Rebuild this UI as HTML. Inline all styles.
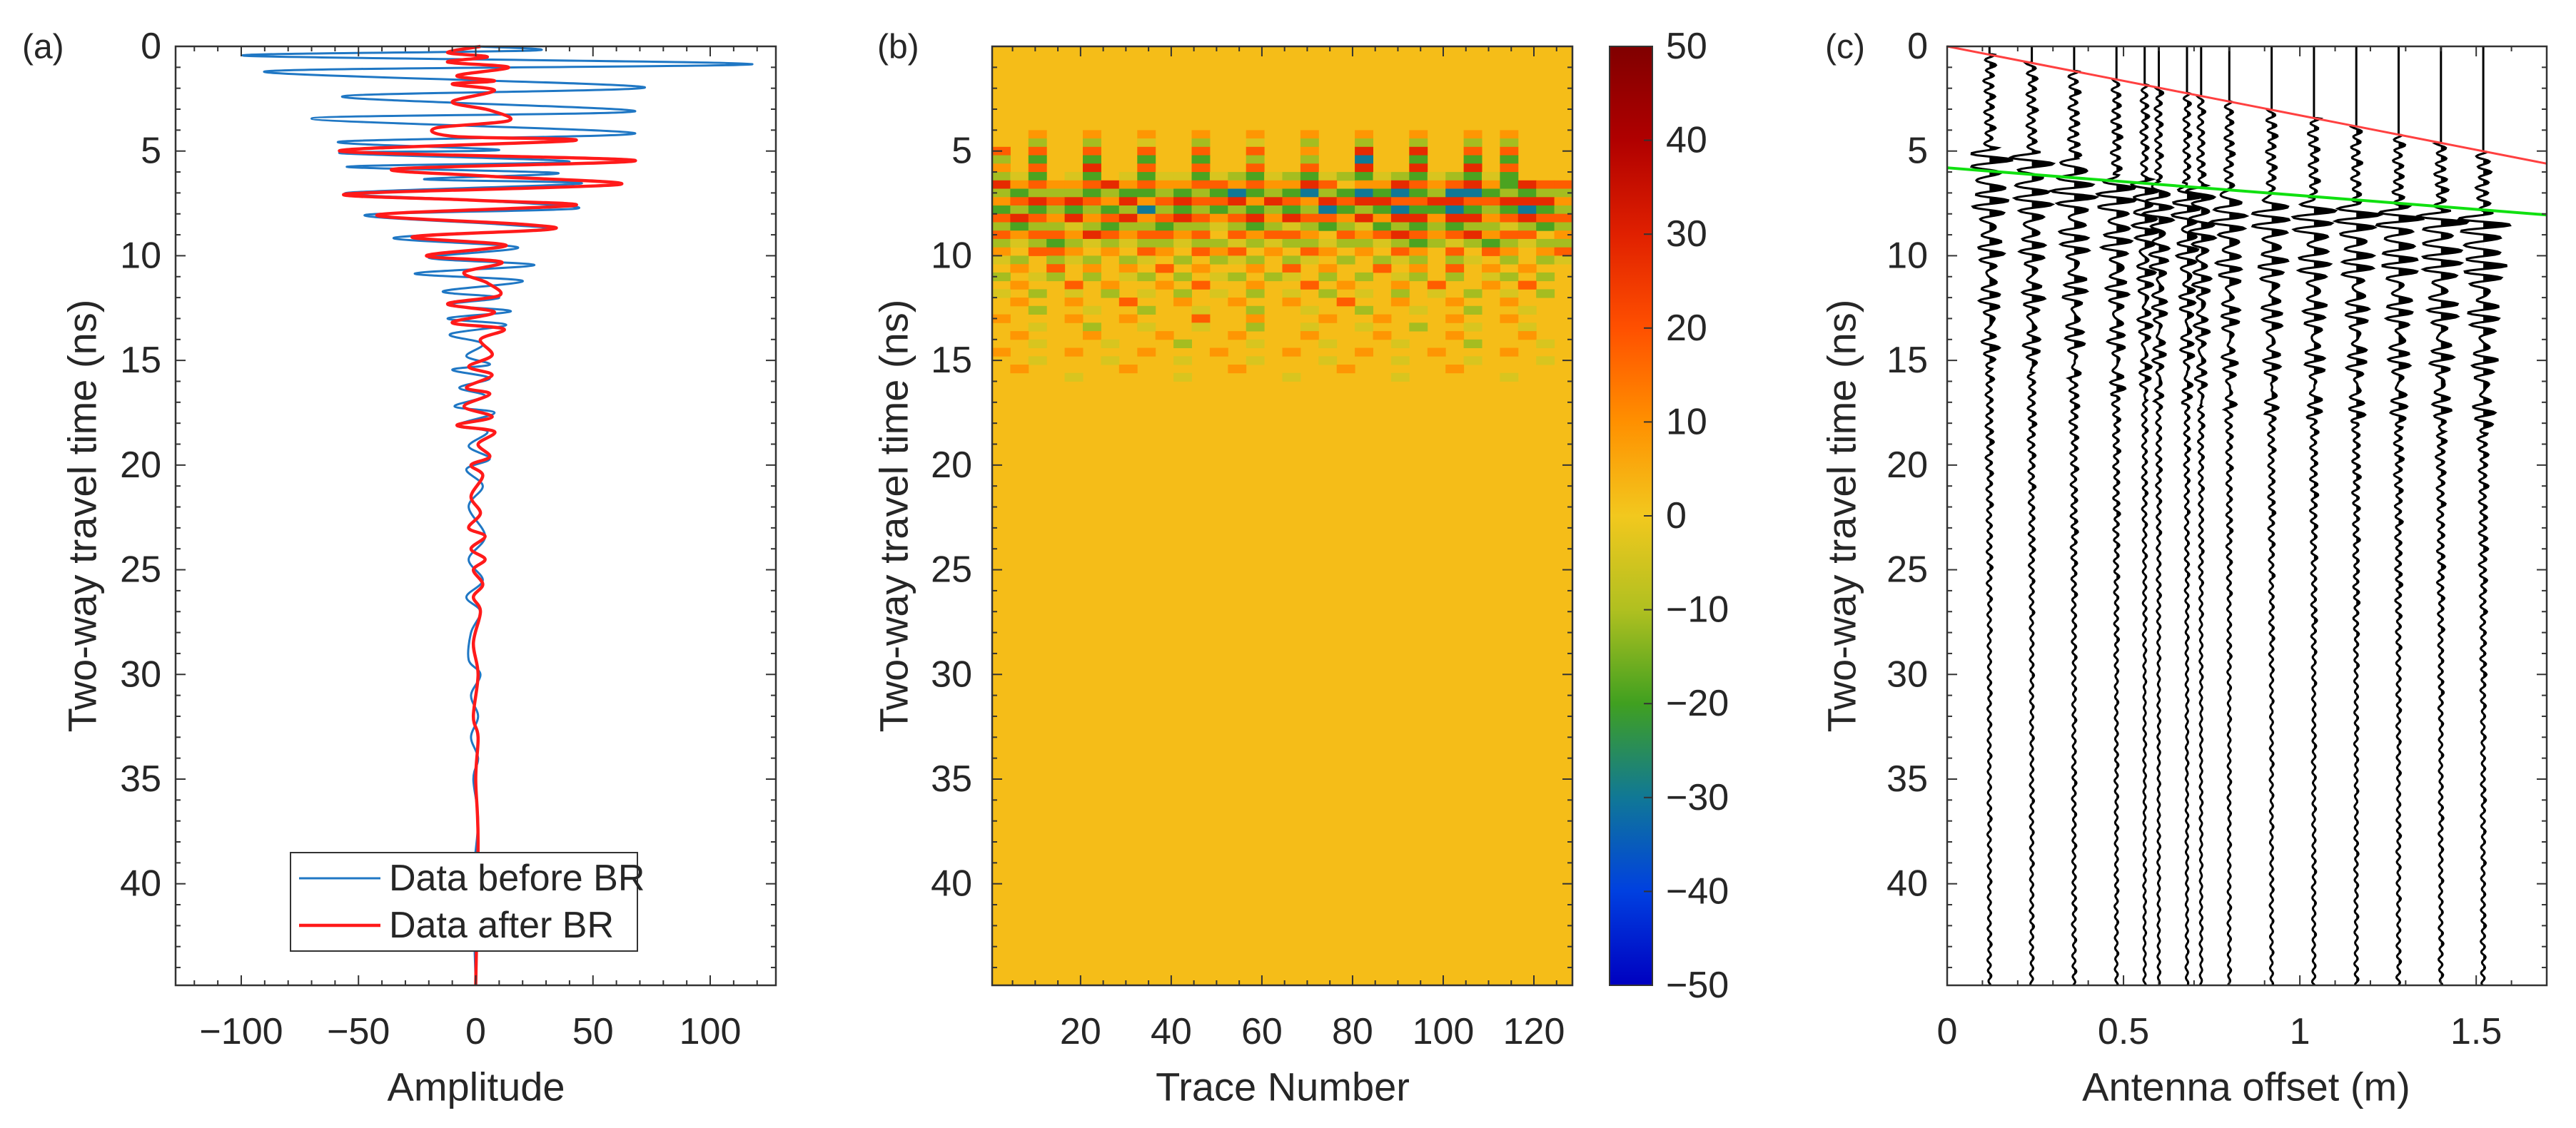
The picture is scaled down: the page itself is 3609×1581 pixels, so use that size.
<!DOCTYPE html>
<html><head><meta charset="utf-8"><style>
html,body{margin:0;padding:0;background:#fff;}
svg{display:block;font-family:"Liberation Sans",Arial,sans-serif;}
</style></head><body>
<svg id="fig" xmlns="http://www.w3.org/2000/svg" width="3609" height="1581" viewBox="0 0 3609 1581">
<rect x="0" y="0" width="3609" height="1581" fill="#fff"/>
</svg>
<script>
// ---------- Panel (a) data: turning points (time ns, amplitude) ----------
const blueT=[0,0.2,0.45,0.85,1.2,1.95,2.4,3.1,3.45,4.15,4.55,4.95,5.1,5.5,5.75,6.05,6.35,6.55,7.0,7.35,7.75,8.05,8.5,8.75,9.15,9.6,10.1,10.45,10.85,11.2,11.7,12.0,12.35,12.65,13.0,13.3,13.75,14.2,14.8,15.2,15.45,15.85,16.3,16.7,17.2,17.5,18.1,18.4,19.1,19.7,20.2,21,22,23.4,24.5,25.5,26.3,27,28,29.3,30,31,32,33,34,35,37,40,44.85];
const blueA=[0,24,-98,118,-90,72,-57,68,-70,68,-58,10,-58,40,-55,35,-22,45,-55,0,43,-47,10,30,-35,18,-20,25,-26,20,-14,10,-12,15,-12,13,-11,3,-4,6,-10,6,-7,4,-9,8,-8,5,-3,6,-4,3,-3,4,-3,3,-4,2,-2,-3,2,-2,1,-2,1,-1,1,-1,0];
const redT=[0,0.3,0.5,0.75,1.0,1.4,1.65,1.8,2.1,2.65,3.05,3.55,3.9,4.3,4.5,5.0,5.45,5.85,6.2,6.6,7.05,7.35,7.6,8.05,8.5,8.75,9.1,9.5,10.0,10.3,10.8,11.3,11.9,12.3,12.7,13.2,13.5,14,14.75,15.3,15.7,16.3,16.6,17.2,17.7,18.1,18.4,19,19.6,20,20.5,21.5,22.3,23,23.4,24,24.5,25,25.7,26.3,27,28.5,30,32,33,35,38,44.85];
const redA=[2,-12,5,-12,14,-8,8,-10,8,-10,6,14,-17,-9,42,-58,68,-34,5,61,-55,0,42,-42,20,31,-27,13,-21,11,-5,5,10,-12,8,-10,12,2,7,-3,7,-4,6,-5,7,-8,8,1,6,-2,3,-2,2,-3,4,-2,4,-1,3,-1,2,-1,1,-1,1,0,1,0];
const aXTicks=[-100,-50,0,50,100];
const aXTickLabels=["\u2212100","\u221250","0","50","100"];
const timeTicks=[0,5,10,15,20,25,30,35,40];
const legendLabels=["Data before BR","Data after BR"];

// ---------- Panel (b) data: heat rows (4 traces per column, 0.4 ns per row from 4.0 ns) ----------
const heatStart=4.0, heatStep=0.4, tracesPerCell=4;
const heatRows=[
"..o..o..o..o..o..o..o..o..o.o...",
"..g..g..-..g..-..g..g..g..g.g...",
"r.r..r..r..r..r..o..R..R..r.r...",
"g.G..G..G..G..g..g..b..G..G.G...",
"o.r..R..r..r..r..r..R..R..R.r...",
"g-G.-G.-G--G-gG-gG-gG-gG-gG-G...",
"RoroorRoroorrorooRr.ooRrorRoGRrr",
"gGgggGgGGgGgGbGgGbgGbGbGgbbGgGgg",
"orRrRroRorRrrRoRroRrRRrrRRrrRRRo",
"GgGgGgGgbgGgGgGgGgbGgGbGGbGgGbGg",
"rRroRorRorRrorRoRrroRoRRoRRorRrr",
"gGgg-gGggGgg-gGg-gGg-GgGgGgg-gGg",
"rorroRrorror.rorro.rorRrorRorr.o",
"g-gGg-g-gg-gg-g-gg-gg-gGg-gGg-gg",
"o.rro.o.ro.ror.o.ro.o.ro.r.ro.or",
"-g.g-g.g-.g.g-g.g-.g.g-g.g-.g.g-",
".o.r.o.o.r.o..o.r.o..r.o.r.o.o..",
"g.-g.g.-g.g.-g.g-.g.g.-g.g.-g.g.",
".o..r.o..o.r..o..r.o..o.r..o.r..",
"-.g.-.g.-.g.-.g.-.g.-.g.-.g.-.g.",
".o..o..r..o..o..o..r..o..o..o...",
"..g..-..g..-..g..-..g..-..g..-..",
"o...o..o...r..o...o..o...o..o...",
"..-..g..-..-..g..-..-..g..-..-..",
".o...o...o...o...o...o...o...o..",
"..-...-...g...-...-...-...g...-.",
"o...o...o...o...o...o...o...o...",
"..-...-...-...-...-...-...-...-.",
".o.....o.....o.....o.....o......",
"....-.....-.....-.....-.....-..."
];
const heatCodes=["R","r","o",".","-","g","G","b"];
const heatValues=[28,18,9,2,-4,-11,-19,-30];
const bXTicks=[20,40,60,80,100,120];
const bYTicks=[5,10,15,20,25,30,35,40];
const cbarTicks=[-50,-40,-30,-20,-10,0,10,20,30,40,50];

// ---------- Panel (c) data ----------
const cOffsets=[0.12,0.24,0.36,0.48,0.56,0.60,0.68,0.72,0.80,0.92,1.04,1.16,1.28,1.40,1.52];
const cRefl=[4.8,5.0,5.3,6.1,6.3,6.4,6.5,6.6,6.8,7.0,7.2,7.4,7.6,7.8,7.9];
const cAmp=[26,26,28,24,18,18,18,18,22,24,26,26,28,30,32];
const wavelet=[0.3,-0.8,1,-0.9,0.8,-1,0.9,-0.7,0.8,-0.6,0.7,-0.6,0.5,-0.5,0.6,-0.4,0.5,-0.4,0.45,-0.35,0.45,-0.35,0.4,-0.3,0.35,-0.3,0.35,-0.25,0.3,-0.25,0.3,-0.2,0.25,-0.2];
const tailNoise=[0.12,-0.1,0.15,-0.08,0.1,-0.14,0.09,-0.11,0.13,-0.07,0.1,-0.12,0.08,-0.1,0.14,-0.09,0.07,-0.12,0.1,-0.08,0.11,-0.1,0.09,-0.13];
const redLineX=[0,1.7], redLineT=[0,5.6];
const greenLineX=[0,1.7], greenLineT=[5.8,8.05];
const cXTicks=[0,0.5,1,1.5];
const cXTickLabels=["0","0.5","1","1.5"];

// ---------- helpers ----------
const NS="http://www.w3.org/2000/svg";
const svg=document.getElementById("fig");
function mk(tag,attrs,parent){const e=document.createElementNS(NS,tag);for(const k in attrs)e.setAttribute(k,attrs[k]);(parent||svg).appendChild(e);return e;}
const TXT="#262626", AX="#333";
const TOP=65, BOT=1381, TMAX=44.85;
const yT=t=>TOP+t/TMAX*(BOT-TOP);

function frame(g,L,R,xmin,xmax,xMajor,xMinorStep,yMinorStep){
  const xs=v=>L+(v-xmin)/(xmax-xmin)*(R-L);
  for(let v=Math.ceil(xmin/xMinorStep)*xMinorStep;v<=xmax+1e-9;v+=xMinorStep){
    const major=xMajor.some(m=>Math.abs(m-v)<1e-6);const len=major?14:7;const x=xs(v);
    const t1=mk("line",{x1:x,x2:x,y1:BOT,y2:BOT-len,stroke:AX,"stroke-width":2},g);
    
    
    const t2=mk("line",{x1:x,x2:x,y1:TOP,y2:TOP+len,stroke:AX,"stroke-width":2},g);
    
    
  }
  for(let t=0;t<=TMAX+1e-9;t+=yMinorStep){
    const major=Math.abs(t/5-Math.round(t/5))<1e-6;const len=major?14:7;const y=yT(t);
    const t1=mk("line",{x1:L,x2:L+len,y1:y,y2:y,stroke:AX,"stroke-width":2},g);
    
    
    const t2=mk("line",{x1:R,x2:R-len,y1:y,y2:y,stroke:AX,"stroke-width":2},g);
    
    
  }
  const box=mk("rect",{x:L,y:TOP,width:R-L,height:BOT-TOP,fill:"none",stroke:AX,"stroke-width":2.5},g);
  
  
  return xs;
}
function text(g,str,x,y,size,anchor,name,rot){
  const t=mk("text",{x:x,y:y,"font-size":size,fill:TXT,"text-anchor":anchor||"middle","dominant-baseline":"central"},g);
  if(rot)t.setAttribute("transform","rotate(-90 "+x+" "+y+")");
  t.textContent=str;
  
  
  return t;
}
function smoothPath(pts){
  let d="M"+pts[0][0].toFixed(1)+","+pts[0][1].toFixed(1);
  for(let i=0;i<pts.length-1;i++){
    const p0=pts[Math.max(0,i-1)],p1=pts[i],p2=pts[i+1],p3=pts[Math.min(pts.length-1,i+2)];
    const c1=[p1[0]+(p2[0]-p0[0])/6,p1[1]+(p2[1]-p0[1])/6];
    const c2=[p2[0]-(p3[0]-p1[0])/6,p2[1]-(p3[1]-p1[1])/6];
    d+="C"+c1[0].toFixed(1)+","+c1[1].toFixed(1)+" "+c2[0].toFixed(1)+","+c2[1].toFixed(1)+" "+p2[0].toFixed(1)+","+p2[1].toFixed(1);
  }
  return d;
}

// ================= Panel (a) =================
const gA=mk("g",{});


const aL=246,aR=1087;
const xa=v=>aL+(v+128)/256*(aR-aL);
const blue=mk("path",{d:smoothPath(blueT.map((t,i)=>[xa(blueA[i]),yT(t)])),fill:"none",stroke:"#1f77c4","stroke-width":3},gA);


const red=mk("path",{d:smoothPath(redT.map((t,i)=>[xa(redA[i]),yT(t)])),fill:"none",stroke:"#ff1a1a","stroke-width":4.5},gA);


frame(gA,aL,aR,-128,128,aXTicks,10,1);
aXTicks.forEach((v,i)=>text(gA,aXTickLabels[i],xa(v),1446,52,"middle","x-tick-label"));
timeTicks.forEach(t=>text(gA,String(t),226,yT(t),52,"end","y-tick-label"));
text(gA,"Amplitude",667,1523,56,"middle","x-axis-title");
text(gA,"Two-way travel time (ns)",115,723,56,"middle","y-axis-title",true);
text(gA,"(a)",31,66,48,"start","panel-label-a");
const leg=mk("g",{},gA);


const lb=mk("rect",{x:407,y:1195,width:486,height:138,fill:"#fff",stroke:AX,"stroke-width":2},leg);


const legColors=["#1f77c4","#ff1a1a"],legW=[3,4.5];
legendLabels.forEach((s,i)=>{
  const y=1231+i*66;
  const ln=mk("line",{x1:419,x2:533,y1:y,y2:y,stroke:legColors[i],"stroke-width":legW[i]},leg);
  
  
  text(leg,s,545,y,52,"start","legend-entry");
});

// ================= Panel (b) =================
const gB=mk("g",{});


const bL=1390,bR=2203,bMin=0.5,bMax=128.5;
const xb=v=>bL+(v-bMin)/(bMax-bMin)*(bR-bL);
const stops=[[-50,[0,0,192]],[-40,[0,64,224]],[-30,[16,120,150]],[-20,[64,160,32]],[-10,[176,192,32]],[0,[242,200,30]],[10,[255,144,0]],[20,[255,80,0]],[30,[224,32,0]],[40,[176,0,0]],[50,[128,0,0]]];
function cmap(v){v=Math.max(-50,Math.min(50,v));for(let i=0;i<stops.length-1;i++){if(v<=stops[i+1][0]){const f=(v-stops[i][0])/10;const a=stops[i][1],b=stops[i+1][1];return "rgb("+a.map((c,k)=>Math.round(c+(b[k]-c)*f)).join(",")+")";}}return "rgb(128,0,0)";}
const bg=mk("rect",{x:bL,y:TOP,width:bR-bL,height:BOT-TOP,fill:cmap(heatValues[3])},gB);


const hm=mk("g",{},gB);


heatRows.forEach((row,r)=>{
  for(let c=0;c<32;c++){
    const ch=row[c]||".";const v=heatValues[heatCodes.indexOf(ch)];
    if(ch===".")continue;
    const x0=xb(c*tracesPerCell+0.5),x1=xb(c*tracesPerCell+tracesPerCell+0.5);
    const y0=yT(heatStart+r*heatStep),y1=yT(heatStart+(r+1)*heatStep);
    const cell=mk("rect",{x:x0.toFixed(1),y:y0.toFixed(1),width:(x1-x0+0.5).toFixed(1),height:(y1-y0+0.5).toFixed(1),fill:cmap(v)},hm);
    
    
  }
});
frame(gB,bL,bR,bMin,bMax,bXTicks,5,1);
bXTicks.forEach(v=>text(gB,String(v),xb(v),1446,52,"middle","x-tick-label"));
bYTicks.forEach(t=>text(gB,String(t),1362,yT(t),52,"end","y-tick-label"));
text(gB,"Trace Number",1797,1523,56,"middle","x-axis-title");
text(gB,"Two-way travel time (ns)",1252,723,56,"middle","y-axis-title",true);
text(gB,"(b)",1229,66,48,"start","panel-label-b");
// colorbar
const cbL=2255,cbR=2315;
const defs=mk("defs",{});
const grad=mk("linearGradient",{id:"cbg",x1:0,y1:1,x2:0,y2:0},defs);
cbarTicks.forEach(v=>{mk("stop",{offset:((v+50)/100).toFixed(2),"stop-color":cmap(v)},grad);});
const cb=mk("g",{},gB);


const cbr=mk("rect",{x:cbL,y:TOP,width:cbR-cbL,height:BOT-TOP,fill:"url(#cbg)",stroke:AX,"stroke-width":2},cb);


const ycb=v=>TOP+(50-v)/100*(BOT-TOP);
cbarTicks.forEach(v=>{
  const tk=mk("line",{x1:cbR,x2:cbR-12,y1:ycb(v),y2:ycb(v),stroke:AX,"stroke-width":2},cb);
  
  
  text(cb,(v<0?"\u2212":"")+Math.abs(v),2334,ycb(v),52,"start","colorbar-tick-label");
});

// ================= Panel (c) =================
const gC=mk("g",{});


const cL=2728,cR=3568;
const xc=v=>cL+v/1.7*(cR-cL);
function interp(arr,pos){if(pos<0||pos>arr.length-1)return 0;const i=Math.floor(pos),f=pos-i;const a=arr[i],b=arr[Math.min(arr.length-1,i+1)];const w=(1-Math.cos(f*Math.PI))/2;return a+(b-a)*w;}
cOffsets.forEach((off,k)=>{
  const tD=redLineT[0]+(redLineT[1]-redLineT[0])*off/1.7;
  const tR=cRefl[k];const A=cAmp[k];const x0=xc(off);
  const pts=[];
  for(let t=0;t<=TMAX;t+=0.05){
    let a=0;
    if(t>=tD){
      const tailPos=((t-tD)/0.25+k*5)%tailNoise.length;
      const decay=t<tR?0.9:Math.max(0.3,1-(t-tR)/35);
      a+=interp(tailNoise.concat([tailNoise[0]]),tailPos)*decay*2.6;
    }
    a+=interp(wavelet,(t-tR)/0.32);
    pts.push([x0+a*A,yT(t)]);
  }
  const tg=mk("g",{},gC);
  
  
  let fd="M"+x0+","+yT(0);
  pts.forEach(p=>{fd+="L"+Math.max(p[0],x0).toFixed(1)+","+p[1].toFixed(1);});
  fd+="L"+x0+","+yT(TMAX)+"Z";
  const fill=mk("path",{d:fd,fill:"#000",stroke:"none"},tg);
  
  
  const ln=mk("polyline",{points:pts.map(p=>p[0].toFixed(1)+","+p[1].toFixed(1)).join(" "),fill:"none",stroke:"#000","stroke-width":3},tg);
  
  
});
const rl=mk("line",{x1:xc(redLineX[0]),y1:yT(redLineT[0]),x2:xc(redLineX[1]),y2:yT(redLineT[1]),stroke:"#ff4040","stroke-width":3},gC);


const gl=mk("line",{x1:xc(greenLineX[0]),y1:yT(greenLineT[0]),x2:xc(greenLineX[1]),y2:yT(greenLineT[1]),stroke:"#10e010","stroke-width":4},gC);


frame(gC,cL,cR,0,1.7,cXTicks,0.1,1);
cXTicks.forEach((v,i)=>text(gC,cXTickLabels[i],xc(v),1446,52,"middle","x-tick-label"));
timeTicks.forEach(t=>text(gC,String(t),2701,yT(t),52,"end","y-tick-label"));
text(gC,"Antenna offset (m)",3147,1523,56,"middle","x-axis-title");
text(gC,"Two-way travel time (ns)",2580,723,56,"middle","y-axis-title",true);
text(gC,"(c)",2557,66,48,"start","panel-label-c");
</script>
</body></html>
